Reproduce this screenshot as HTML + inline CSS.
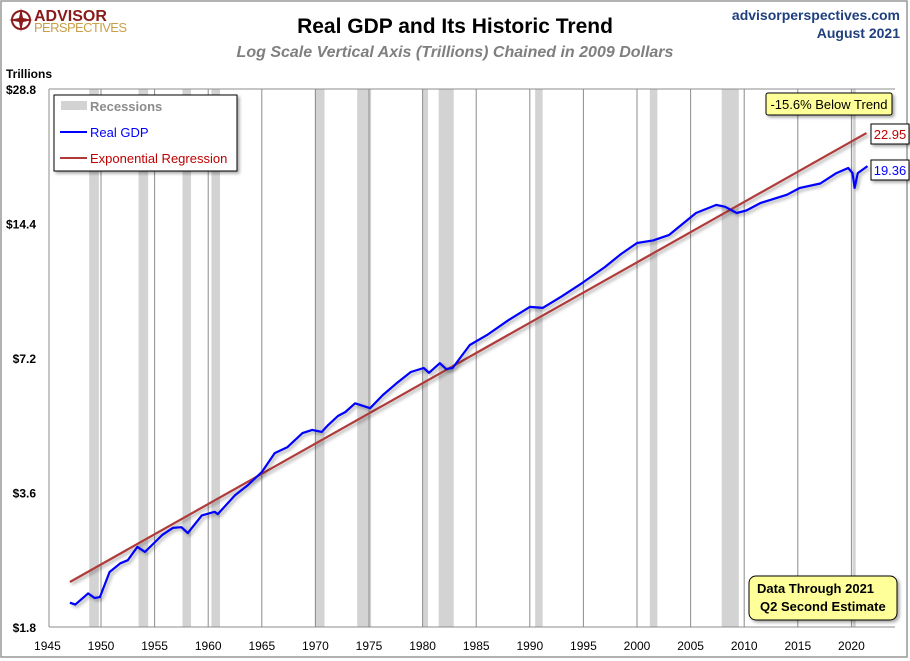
<!DOCTYPE html>
<html><head><meta charset="utf-8">
<style>
body{margin:0;background:#fff;font-family:"Liberation Sans",sans-serif;}
#wrap{position:relative;width:910px;height:661px;overflow:hidden;}
</style></head>
<body><div id="wrap">
<svg id="svg" width="910" height="661" xmlns="http://www.w3.org/2000/svg">
<defs>
<filter id="sh" x="-10%" y="-10%" width="130%" height="140%"><feDropShadow dx="2" dy="2" stdDeviation="1.5" flood-color="#000" flood-opacity="0.35"/></filter>
</defs>
<rect x="1" y="1" width="906" height="656" fill="#fff" stroke="#999" stroke-width="1.5"/>
<g id="rec"></g>
<g id="grid"></g>
<g id="series"></g>
<g id="axes"></g>
<g>
<circle cx="21" cy="20" r="9" fill="none" stroke="#8b1a1a" stroke-width="2"/>
<path d="M21 8 L23 18 L33 20 L23 22 L21 32 L19 22 L9 20 L19 18Z" fill="#8b1a1a"/>
<text x="34" y="21" font-size="16" font-weight="bold" fill="#8b1a1a">ADVISOR</text>
<text x="34" y="32" font-size="13" fill="#c8a048" textLength="93">PERSPECTIVES</text>
</g>
<text x="455" y="33" text-anchor="middle" font-size="21" font-weight="bold" fill="#000">Real GDP and Its Historic Trend</text>
<text x="455" y="57" text-anchor="middle" font-size="16" font-style="italic" font-weight="bold" fill="#7f7f7f">Log Scale Vertical Axis (Trillions) Chained in 2009 Dollars</text>
<text x="900" y="20" text-anchor="end" font-size="14" font-weight="bold" fill="#1f3f7f">advisorperspectives.com</text>
<text x="900" y="38" text-anchor="end" font-size="14" font-weight="bold" fill="#1f3f7f">August 2021</text>
<text x="6" y="78" font-size="12" font-weight="bold">Trillions</text>
<g filter="url(#sh)">
<rect x="54" y="95" width="183" height="76" fill="#fff" stroke="#000"/>
</g>
<rect x="61" y="101" width="26" height="9" fill="#d3d3d3"/>
<text x="90" y="111" font-size="13" font-weight="bold" fill="#8c8c8c">Recessions</text>
<line x1="60" y1="132" x2="87" y2="132" stroke="#0000ff" stroke-width="2"/>
<text x="90" y="137" font-size="13" fill="#0000ff">Real GDP</text>
<line x1="60" y1="158" x2="87" y2="158" stroke="#b03a3a" stroke-width="2"/>
<text x="90" y="163" font-size="13" fill="#c00000">Exponential Regression</text>
<g filter="url(#sh)"><rect x="766" y="93" width="126" height="22" fill="#ffff99" stroke="#000" rx="2"/></g>
<text x="829" y="109" text-anchor="middle" font-size="13">-15.6% Below Trend</text>
<g filter="url(#sh)"><rect x="749" y="576" width="148" height="44" fill="#ffff99" stroke="#000" rx="7"/></g>
<text x="757" y="593" font-size="13" font-weight="bold">Data Through 2021</text>
<text x="760" y="611" font-size="13" font-weight="bold">Q2 Second Estimate</text>
<g filter="url(#sh)">
<rect x="871" y="124" width="38" height="20" fill="#fff" stroke="#000"/>
<rect x="871" y="160" width="38" height="20" fill="#fff" stroke="#000"/>
</g>
<text x="890" y="139" text-anchor="middle" font-size="13" fill="#c00000">22.95</text>
<text x="890" y="175" text-anchor="middle" font-size="13" fill="#0000ff">19.36</text>
</svg>
<script>
const yearTicks=[1945,1950,1955,1960,1965,1970,1975,1980,1985,1990,1995,2000,2005,2010,2015,2020];
const valueTicks=[1.8,3.6,7.2,14.4,28.8];
const valueTickLabels=["$1.8","$3.6","$7.2","$14.4","$28.8"];
const recessionStarts=[1948.9,1953.5,1957.6,1960.3,1969.95,1973.9,1980.0,1981.5,1990.5,2001.2,2007.9,2020.1];
const recessionEnds=[1949.8,1954.4,1958.4,1961.1,1970.85,1975.2,1980.5,1982.9,1991.2,2001.9,2009.5,2020.4];
const gdpYears=[1947.1,1947.6,1948.8,1949.4,1949.9,1950.8,1951.8,1952.5,1953.4,1954.1,1955.7,1956.7,1957.5,1958.1,1959.4,1960.6,1960.9,1962.5,1963.7,1965.0,1966.2,1967.4,1968.8,1969.7,1970.6,1971.2,1972.1,1972.8,1973.7,1975.1,1976.3,1977.5,1978.9,1980.1,1980.6,1981.6,1982.2,1982.8,1984.4,1986.0,1988.0,1990.0,1991.2,1993.0,1994.9,1997.0,1998.5,2000.0,2001.5,2003.0,2004.3,2005.5,2007.4,2008.2,2009.3,2010.2,2011.5,2014.0,2015.2,2017.1,2018.6,2019.7,2020.1,2020.3,2020.6,2021.5];
const gdpValues=[2.04,2.02,2.14,2.09,2.10,2.39,2.50,2.54,2.72,2.65,2.89,3.00,3.01,2.92,3.20,3.26,3.22,3.55,3.74,4.00,4.41,4.55,4.89,4.97,4.92,5.10,5.34,5.45,5.70,5.56,5.95,6.30,6.70,6.84,6.67,7.01,6.80,6.84,7.70,8.10,8.75,9.37,9.32,9.90,10.6,11.5,12.3,13.02,13.2,13.58,14.4,15.2,15.85,15.7,15.2,15.4,16.0,16.7,17.3,17.7,18.67,19.17,18.67,17.3,18.67,19.36];
const trendStartYear=1947.1, trendStartValue=2.27, trendEndYear=2021.4, trendEndValue=22.95;

const PL=49,PR=895,PT=89,PB=627;
const xs=yr=>101+(yr-1950)*10.72;
const ys=v=>PT+(Math.log2(28.8)-Math.log2(v))*((PB-PT)/4);
const NS="http://www.w3.org/2000/svg";
function mk(tag,attrs,parent){const e=document.createElementNS(NS,tag);for(const k in attrs)e.setAttribute(k,attrs[k]);document.getElementById(parent).appendChild(e);return e;}

recessionStarts.forEach((s,i)=>{
 const r=mk('rect',{x:xs(s),y:PT,width:xs(recessionEnds[i])-xs(s),height:PB-PT,fill:'#d3d3d3'},'rec');
 
 
});
yearTicks.forEach(yr=>{
 if(yr>1945){const g=mk('line',{x1:xs(yr),x2:xs(yr),y1:PT,y2:PB,stroke:'#8c8c8c','stroke-width':1},'grid');
 
 }
 const t=mk('text',{x:xs(yr),y:PB+23,'text-anchor':'middle','font-size':12,fill:'#000'},'axes');
 t.textContent=yr;
 
 
});
valueTicks.forEach((v,i)=>{
 const t=mk('text',{x:36,y:ys(v)+5,'text-anchor':'end','font-size':12,'font-weight':'bold'},'axes');
 t.textContent=valueTickLabels[i];
 
 
});
const topLine=mk('line',{x1:PL,x2:PR,y1:PT,y2:PT,stroke:'#8c8c8c'},'axes');


const botLine=mk('line',{x1:PL,x2:PR,y1:PB,y2:PB,stroke:'#8c8c8c'},'axes');


const leftLine=mk('line',{x1:PL,x2:PL,y1:PT,y2:PB,stroke:'#8c8c8c'},'axes');



const tr=mk('line',{x1:xs(trendStartYear),y1:ys(trendStartValue),x2:xs(trendEndYear),y2:ys(trendEndValue),stroke:'#b03a3a','stroke-width':2.2,filter:'url(#sh)'},'series');


const d=gdpYears.map((yr,i)=>(i?'L':'M')+xs(yr).toFixed(1)+' '+ys(gdpValues[i]).toFixed(1)).join(' ');
const gl=mk('path',{d:d,fill:'none',stroke:'#0000ff','stroke-width':2.2,'stroke-linejoin':'round',filter:'url(#sh)'},'series');


</script>
</div></body></html>
